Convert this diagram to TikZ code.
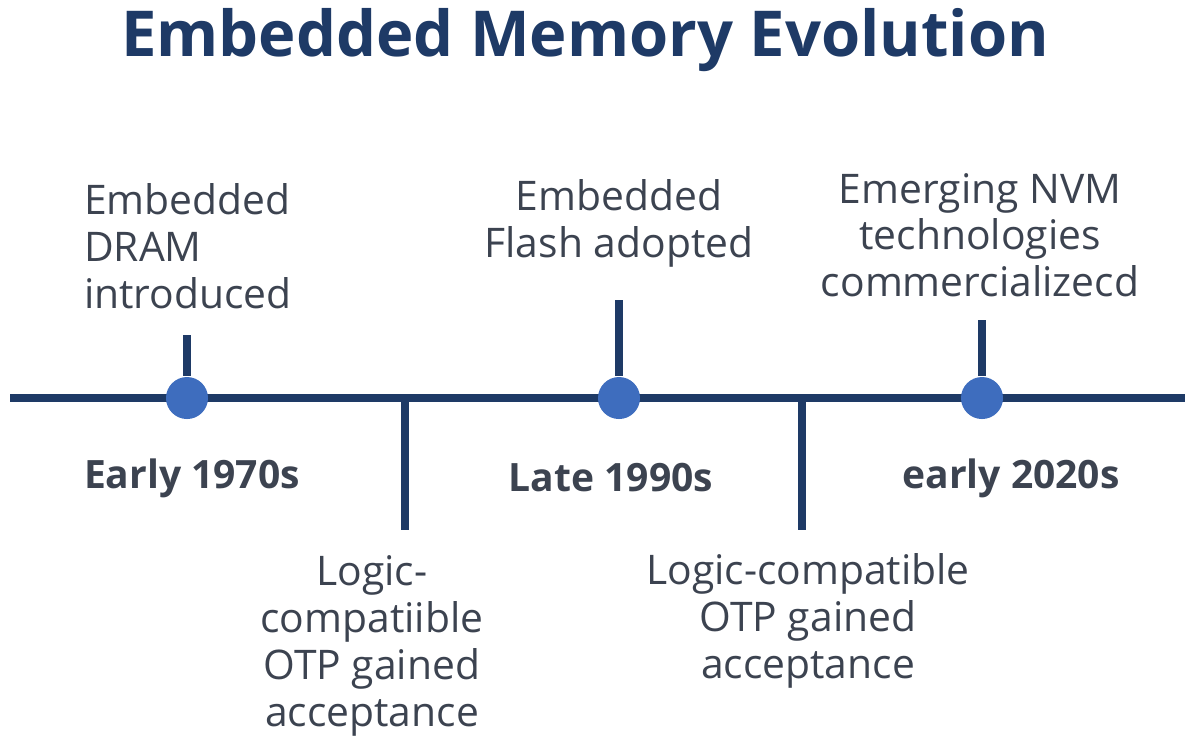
\documentclass[tikz,border=0pt]{standalone}
\usepackage{fontspec}
\setmainfont{Open Sans}
\usetikzlibrary{positioning}
\definecolor{navy}{HTML}{1E3A66}
\definecolor{dotblue}{HTML}{3E6DBE}
\definecolor{txtgray}{HTML}{3C4350}
\begin{document}
\begin{tikzpicture}[x=0.01cm,y=-0.01cm,
        line/.style={draw=navy, line width=2.2pt},
        dot/.style={circle, fill=dotblue, inner sep=0pt, minimum size=0.42cm},
        event/.style={text=txtgray, font=\fontsize{11.6}{13.3}\selectfont, align=center, inner sep=0pt},
        year/.style={text=txtgray, font=\fontsize{11.1}{13}\selectfont\bfseries, inner sep=0pt}]
    \useasboundingbox (0,0) rectangle (1200,753);
    \node[text=navy, font=\fontsize{18}{21}\selectfont\bfseries] (title) at (585,40) {Embedded Memory Evolution};
    % axis
    \coordinate (start) at (10,398);
    \coordinate (stop) at (1185,398);
    \draw[line] (start) -- (stop);
    % ticks above
    \coordinate (ta) at (187,335);
    \coordinate (tb) at (619,300);
    \coordinate (tc) at (982,320);
    \node[dot] (da) at (187,398) {};
    \node[dot] (db) at (619,398) {};
    \node[dot] (dc) at (982,398) {};
    \draw[line] (ta) -- (da);
    \draw[line] (tb) -- (db);
    \draw[line] (tc) -- (dc);
    % ticks below
    \coordinate (ba) at (405,398);
    \coordinate (bb) at (802,398);
    \coordinate (ea) at (405,530);
    \coordinate (eb) at (802,530);
    \draw[line] (ba) -- (ea);
    \draw[line] (bb) -- (eb);
    % events
    \node[event, align=left] (dram) at (188,246) {Embedded\\DRAM\\introduced};
    \node[event] (flash) at (619,223) {Embedded\\Flash adopted};
    \node[event] (nvm) at (980,235) {Emerging NVM\\technologies\\commercializecd};
    \node[event] (otpa) at (372,646) {Logic-\\compatiible\\OTP gained\\acceptance};
    \node[event] (otpb) at (808,621) {Logic-compatible\\OTP gained\\acceptance};
    % years
    \node[year] (ya) at (192,478) {Early 1970s};
    \node[year] (yb) at (611,478) {Late 1990s};
    \node[year] (yc) at (1011,478) {early 2020s};
\end{tikzpicture}
\end{document}
